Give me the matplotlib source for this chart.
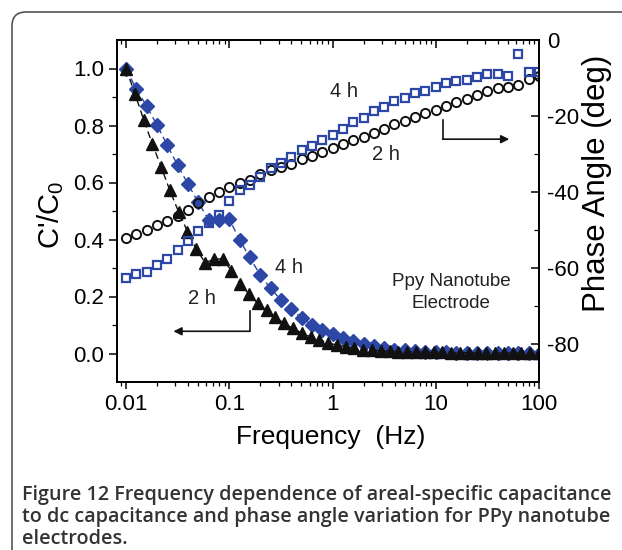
import matplotlib
matplotlib.use('Agg')
import matplotlib.pyplot as plt
from matplotlib.patches import FancyBboxPatch
from matplotlib.ticker import FixedLocator, NullFormatter

# frequencies (Hz): 10 points per decade, used for 4 h capacitance and both phase curves
freq = [0.01, 0.0126, 0.0158, 0.02, 0.0251, 0.0316, 0.0398, 0.0501, 0.0631, 0.0794,
        0.1, 0.126, 0.158, 0.2, 0.251, 0.316, 0.398, 0.501, 0.631, 0.794,
        1, 1.26, 1.58, 2, 2.51, 3.16, 3.98, 5.01, 6.31, 7.94,
        10, 12.6, 15.8, 20, 25.1, 31.6, 39.8, 50.1, 63.1, 79.4, 100]
# the 2 h capacitance curve has a denser frequency set
freq_2h_cap = [0.01, 0.0122, 0.0148, 0.018, 0.0219, 0.0266, 0.0324, 0.0394, 0.048, 0.0584,
               0.071, 0.0864, 0.105, 0.128, 0.155, 0.189, 0.23, 0.28, 0.34, 0.414,
               0.504, 0.613, 0.746, 0.907, 1.10, 1.34, 1.63, 1.98, 2.41, 2.94,
               3.57, 4.35, 5.29, 6.43, 7.83, 9.52, 11.6, 14.1, 17.1, 20.8,
               25.4, 30.9, 37.5, 45.7, 55.5, 67.6, 82.2, 100]

cap_2h = [1.0, 0.912, 0.821, 0.735, 0.655, 0.572, 0.496, 0.428, 0.366, 0.319,
          0.330, 0.333, 0.290, 0.243, 0.209, 0.176, 0.151, 0.127, 0.106, 0.088,
          0.072, 0.059, 0.048, 0.037, 0.030, 0.023, 0.019, 0.014, 0.011, 0.009,
          0.008, 0.007, 0.006, 0.005, 0.005, 0.004, 0.004, 0.003, 0.003, 0.003,
          0.002, 0.002, 0.002, 0.002, 0.001, 0.001, 0.001, 0.001]
cap_4h = [1.0, 0.927, 0.869, 0.801, 0.731, 0.661, 0.595, 0.530, 0.470, 0.468,
          0.472, 0.399, 0.337, 0.275, 0.229, 0.188, 0.155, 0.125, 0.101, 0.083,
          0.067, 0.055, 0.043, 0.034, 0.027, 0.020, 0.014, 0.011, 0.008, 0.006,
          0.005, 0.004, 0.003, 0.003, 0.002, 0.002, 0.002, 0.001, 0.001, 0.001, 0.000]
phase_2h = [-52.0, -51.1, -50.0, -48.8, -47.5, -46.2, -44.7, -42.9, -41.2, -40.1,
            -38.7, -37.6, -36.8, -35.3, -34.3, -33.4, -32.5, -31.4, -30.5, -29.4,
            -28.3, -27.4, -26.4, -25.5, -24.4, -23.3, -22.2, -21.2, -20.2, -19.3,
            -18.3, -17.4, -16.4, -15.5, -14.5, -13.4, -12.7, -12.3, -11.8, -10.2, -9.6]
phase_4h = [-62.6, -61.7, -61.1, -59.3, -57.6, -55.2, -53.0, -50.2, -48.1, -46.1,
            -42.3, -39.4, -38.1, -36.1, -33.7, -32.4, -30.8, -28.9, -27.8, -26.3,
            -24.9, -23.4, -21.7, -20.5, -18.8, -17.6, -16.0, -15.3, -13.9, -13.5,
            -12.3, -11.3, -10.9, -10.4, -9.8, -9.0, -9.0, -9.4, -3.6, -8.3, -8.3]

xtick_vals = [0.01, 0.1, 1, 10, 100]
xtick_labels = ['0.01', '0.1', '1', '10', '100']
left_ticks = [0.0, 0.2, 0.4, 0.6, 0.8, 1.0]
left_labels = ['0.0', '0.2', '0.4', '0.6', '0.8', '1.0']
right_ticks = [-80, -60, -40, -20, 0]
right_labels = ['-80', '-60', '-40', '-20', '0']

caption = ['Figure 12 Frequency dependence of areal-specific capacitance',
           'to dc capacitance and phase angle variation for PPy nanotube',
           'electrodes.']

plt.rcParams['font.family'] = 'Liberation Sans'
plt.rcParams['mathtext.fontset'] = 'custom'
plt.rcParams['mathtext.rm'] = 'Liberation Sans'
plt.rcParams['mathtext.it'] = 'Liberation Sans:italic'

blue = '#2c47a6'
ink = '#111111'
W, H = 622, 550

fig = plt.figure(figsize=(W / 100, H / 100), dpi=100)
ax = fig.add_axes([117 / W, 1 - 382 / H, 422 / W, 342 / H])
ax2 = ax.twinx()

ax.plot(freq, cap_4h, ls=(0, (5, 3)), color=blue, lw=1, marker='D', ms=7, mec=blue, zorder=3)
ax.plot(freq_2h_cap, cap_2h, ls=(0, (5, 3)), color=ink, lw=1, marker='^', ms=9, zorder=4)
ax2.plot(freq, phase_2h, ls='none', marker='o', ms=6.6, mfc='none', mec=ink, mew=1.4)
ax2.plot(freq, phase_4h, ls='none', marker='s', ms=5.8, mfc='none', mec=blue, mew=1.6)

ax.set_xscale('log')
ax.set_xlim(0.00818, 100)
ax.set_xticks(xtick_vals, labels=xtick_labels)
ax.xaxis.set_minor_formatter(NullFormatter())
ax.tick_params(axis='x', which='both', direction='out', top=False, labelsize=16, pad=4)
ax.tick_params(axis='x', which='major', length=5, width=1.1)
ax.tick_params(axis='x', which='minor', length=3, width=0.9)
ax2.xaxis.set_visible(True)
ax2.tick_params(axis='x', which='both', direction='in', top=True, bottom=False,
                labeltop=False, labelbottom=False)
ax2.tick_params(axis='x', which='major', length=6, width=1.1)
ax2.tick_params(axis='x', which='minor', length=3, width=0.9)

ax.set_ylim(-0.1, 1.1)
ax.set_yticks(left_ticks, labels=left_labels)
ax.yaxis.set_minor_locator(FixedLocator([0.1, 0.3, 0.5, 0.7, 0.9]))
ax.tick_params(axis='y', which='both', direction='out', labelsize=16, pad=3)
ax.tick_params(axis='y', which='major', length=6, width=1.1)
ax.tick_params(axis='y', which='minor', length=3.5, width=0.9)

ax2.set_ylim(-90, 0)
ax2.set_yticks(right_ticks, labels=right_labels)
ax2.yaxis.set_minor_locator(FixedLocator([-70, -50, -30, -10]))
ax2.tick_params(axis='y', which='both', direction='in', labelsize=16, pad=6)
ax2.tick_params(axis='y', which='major', length=6, width=1.1)
ax2.tick_params(axis='y', which='minor', length=3.5, width=0.9)

for a in (ax, ax2):
    for sp in a.spines.values():
        sp.set_linewidth(1.3)

# annotations
ax2.text(1.28, -13.6, '4 h', fontsize=14.5, ha='center', va='center', color='#222')
ax2.text(3.27, -30.2, '2 h', fontsize=14.5, ha='center', va='center', color='#222')
ax2.plot([11.7, 11.7], [-21.0, -26.1], color=ink, lw=1.2)
ax2.annotate('', xy=(51.5, -26.1), xytext=(11.7, -26.1),
             arrowprops=dict(arrowstyle='-|>', lw=1.2, color=ink, mutation_scale=12,
                             shrinkA=0, shrinkB=0))
ax.text(0.376, 0.303, '4 h', fontsize=14.5, ha='center', va='center', color='#222')
ax.text(0.0543, 0.192, '2 h', fontsize=14.5, ha='center', va='center', color='#222')
ax.plot([0.1574, 0.1574], [0.148, 0.078], color=ink, lw=1.2)
ax.annotate('', xy=(0.0288, 0.078), xytext=(0.1574, 0.078),
            arrowprops=dict(arrowstyle='-|>', lw=1.2, color=ink, mutation_scale=12,
                            shrinkA=0, shrinkB=0))
ax.text(14.0, 0.214, 'Ppy Nanotube\nElectrode', fontsize=13.5, ha='center', va='center',
        linespacing=1.35, color='#222')

# axis titles
fig.text(51 / W, 1 - 215 / H, r"C'/C$_0$", rotation=90, ha='center', va='center', fontsize=21)
fig.text(597 / W, 1 - 183 / H, 'Phase Angle (deg)', rotation=90, ha='center', va='center', fontsize=22.5)
fig.text(331 / W, 1 - 437 / H, 'Frequency  (Hz)', ha='center', va='center', fontsize=19)

# frame
box = FancyBboxPatch((0.12, -0.3), 6.5, 5.68, boxstyle='round,pad=0,rounding_size=0.14',
                     transform=fig.dpi_scale_trans, fill=False, ec='#555555', lw=1.2)
fig.add_artist(box)

# caption, scaled so the first line spans the frame width
caps = []
for i, line in enumerate(caption):
    caps.append(fig.text(22 / W, 1 - (500 + 22 * i) / H, line, fontsize=12, fontweight='semibold',
                         family='Open Sans', color='#333333', va='baseline', ha='left'))
fig.canvas.draw()
w = caps[0].get_window_extent().width
for t in caps:
    t.set_fontsize(12 * 586 / w)

fig.savefig('out.png', dpi=100)
